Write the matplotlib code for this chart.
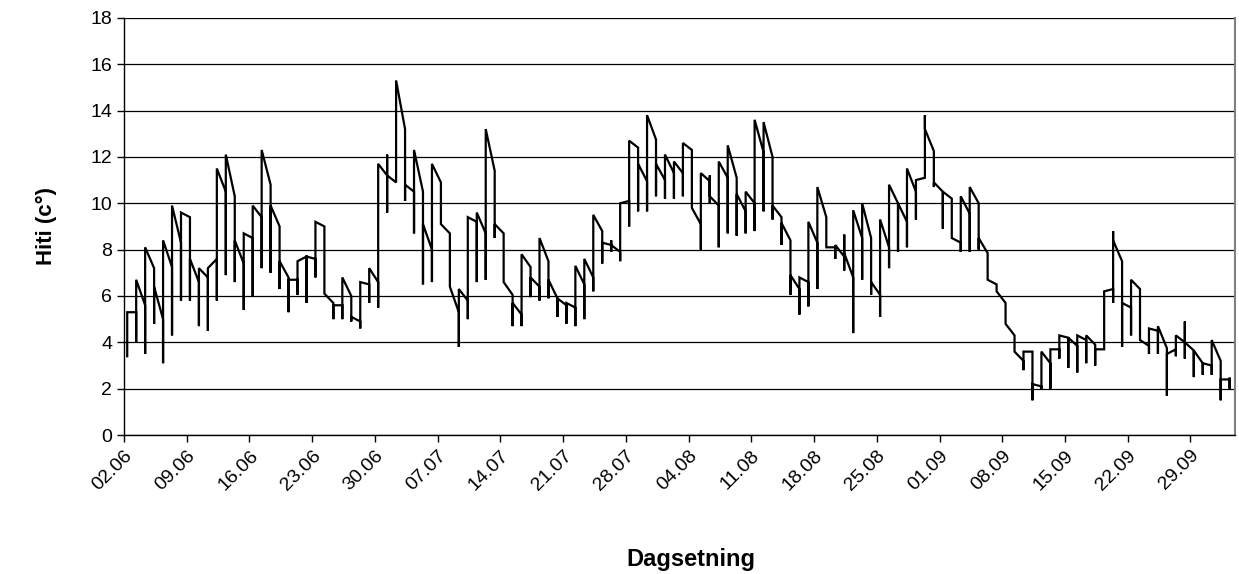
import numpy as np
import matplotlib
matplotlib.use('Agg')
from matplotlib import pyplot as plt

# hourly readings collapsed per day: value the line arrives at, lowest, highest, value it leaves from
arrive = [3.4, 5.3, 5.6, 7.2, 5.0, 7.25, 8.3, 9.4, 6.6, 6.8,
          7.6, 10.5, 10.3, 7.4, 8.5, 9.4, 10.8, 9.0, 6.8, 6.7,
          7.7, 7.6, 9.0, 5.7, 5.6, 6.0, 4.9, 6.5, 6.6, 11.2,
          10.9, 13.2, 10.5, 10.5, 8.0, 10.9, 8.7, 5.3, 5.8, 9.2,
          8.7, 11.4, 8.7, 6.05, 5.2, 7.25, 6.4, 7.5, 5.9, 5.6,
          5.5, 6.5, 6.8, 8.8, 8.2, 7.9, 10.1, 12.4, 10.95, 12.75,
          11.0, 11.3, 11.3, 12.3, 9.1, 10.95, 9.9, 11.1, 11.1, 9.65,
          10.0, 12.2, 12.0, 9.4, 8.4, 6.3, 6.6, 8.3, 9.4, 8.1,
          7.7, 6.8, 8.5, 8.5, 6.05, 8.1, 10.0, 9.2, 10.5, 11.1,
          12.25, 10.5, 10.2, 8.3, 9.55, 10.0, 7.85, 6.5, 5.7, 4.3,
          3.2, 3.6, 2.1, 3.1, 3.7, 4.2, 3.85, 4.1, 3.9, 3.7,
          6.3, 7.5, 5.5, 6.3, 3.85, 4.5, 3.75, 3.7, 4.0, 3.65,
          3.1, 3.0, 3.2, 2.4]
low = [3.4, 4.0, 3.5, 4.8, 3.1, 4.3, 5.8, 5.8, 4.7, 4.5,
       5.8, 6.9, 6.6, 5.4, 6.0, 7.2, 7.0, 6.3, 5.3, 6.05,
       5.7, 6.8, 6.1, 5.0, 5.0, 4.9, 4.6, 5.7, 5.5, 9.6,
       10.9, 10.1, 8.7, 6.5, 6.6, 9.1, 6.4, 3.8, 5.0, 6.6,
       6.7, 8.5, 6.6, 4.7, 4.7, 5.95, 5.8, 5.9, 5.1, 4.8,
       4.7, 5.0, 6.2, 7.4, 7.9, 7.5, 9.0, 9.65, 9.65, 10.3,
       10.2, 10.2, 10.3, 9.8, 8.0, 10.0, 8.1, 8.7, 8.6, 8.7,
       8.8, 9.65, 9.3, 8.2, 6.05, 5.2, 5.55, 6.3, 8.1, 7.6,
       7.1, 4.4, 6.7, 6.05, 5.1, 7.2, 7.9, 8.1, 9.3, 11.1,
       10.7, 8.9, 8.5, 7.9, 7.9, 8.0, 6.7, 6.2, 4.8, 3.6,
       2.8, 1.5, 2.0, 2.0, 3.3, 2.9, 2.7, 3.1, 3.0, 3.7,
       5.7, 3.8, 4.3, 4.1, 3.5, 3.5, 1.7, 3.4, 3.3, 2.5,
       2.6, 2.6, 1.5, 2.0]
high = [5.3, 6.7, 8.1, 6.4, 8.4, 9.9, 9.6, 7.6, 7.2, 7.2,
        11.5, 12.1, 8.4, 8.7, 9.9, 12.3, 9.9, 7.5, 6.7, 7.5,
        7.7, 9.2, 6.1, 5.6, 6.8, 5.1, 6.6, 7.2, 11.7, 12.1,
        15.3, 10.8, 12.3, 9.1, 11.7, 9.1, 6.4, 6.3, 9.4, 9.6,
        13.2, 9.1, 6.6, 5.7, 7.8, 6.8, 8.5, 6.7, 5.9, 5.7,
        7.3, 7.6, 9.5, 8.3, 8.4, 10.0, 12.7, 11.7, 13.8, 12.75,
        12.1, 11.8, 12.6, 9.8, 11.3, 11.2, 11.8, 12.5, 10.4, 10.5,
        13.6, 13.5, 9.9, 9.15, 6.9, 6.8, 9.2, 10.7, 8.1, 8.2,
        8.65, 9.7, 10.0, 6.6, 9.3, 10.8, 10.0, 11.5, 11.0, 13.8,
        10.9, 10.5, 8.5, 10.3, 10.7, 8.5, 6.7, 6.2, 4.8, 3.6,
        3.6, 2.2, 3.6, 3.7, 4.3, 4.2, 4.3, 4.3, 3.7, 6.2,
        8.8, 5.7, 6.7, 4.1, 4.6, 4.7, 3.5, 4.3, 4.9, 3.65,
        3.1, 4.1, 2.4, 2.45]
leave = list(high)
leave[29] = 11.2
leave[54] = 8.2
leave[59] = 11.7
leave[65] = 10.3
leave[80] = 7.85
leave[89] = 13.2
leave[110] = 8.4
leave[118] = 4.0

tick_labels = ['02.06', '09.06', '16.06', '23.06', '30.06', '07.07', '14.07',
               '21.07', '28.07', '04.08', '11.08', '18.08', '25.08', '01.09',
               '08.09', '15.09', '22.09', '29.09']

n_days = len(arrive)
xs = []
ys = []
for i in range(n_days):
    x = i + 0.37
    for v in (arrive[i], low[i], high[i], leave[i]):
        xs.append(x)
        ys.append(v)

fig = plt.figure(figsize=(12.39, 5.74), dpi=100)
ax = fig.add_axes([0.100, 0.242, 0.897, 0.727])

ax.plot(xs, ys, color='black', linewidth=1.6, solid_joinstyle='miter')

ax.set_ylim(0, 18)
ax.set_yticks(np.arange(0, 19, 2))
ax.set_xlim(0, 124.0)
ax.set_xticks(np.arange(len(tick_labels)) * 7)
ax.set_xticklabels(tick_labels, rotation=45, ha='right', rotation_mode='anchor')

ax.grid(axis='y', color='black', linewidth=0.9)
ax.set_axisbelow(True)

for s in ['left', 'bottom']:
    ax.spines[s].set_color('black')
    ax.spines[s].set_linewidth(1.0)
ax.spines['top'].set_visible(False)
ax.spines['right'].set_color('#808080')
ax.spines['right'].set_linewidth(1.5)

ax.tick_params(direction='out', length=5, width=1, labelsize=14, colors='black')
for lab in ax.get_xticklabels() + ax.get_yticklabels():
    lab.set_family('Liberation Sans')

ax.set_ylabel('Hiti (c°)', fontsize=16, fontweight='bold', family='Liberation Sans', labelpad=24)
ax.set_xlabel('Dagsetning', fontsize=17, fontweight='bold', family='Liberation Sans', labelpad=38)
ax.xaxis.set_label_coords(0.51, -0.27)

fig.savefig('out.png', dpi=100)
